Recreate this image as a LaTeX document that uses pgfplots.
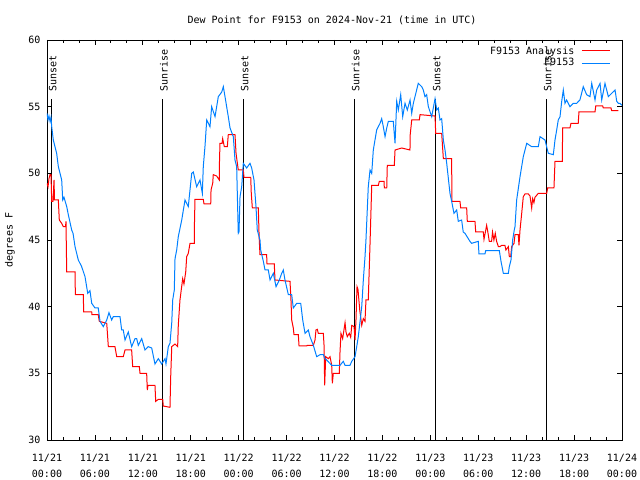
\documentclass[border=0pt]{standalone}
\usepackage{pgfplots}
\pgfplotsset{compat=1.18}
\usepackage{fontspec}
\setmainfont{DejaVu Sans Mono}
\definecolor{gred}{RGB}{255,0,0}
\definecolor{gblue}{RGB}{0,128,255}
\begin{document}
\fontsize{10bp}{12bp}\selectfont
\begin{tikzpicture}
\path[use as bounding box] (-47bp,-40bp) rectangle (593bp,440bp);
\begin{axis}[
  scale only axis, width=575bp, height=400bp,
  xmin=0, xmax=72, ymin=30, ymax=60,
  axis line style={line width=0.8bp},
  xtick={0,6,...,72},
  xticklabels={{11/21\\00:00},{11/21\\06:00},{11/21\\12:00},{11/21\\18:00},{11/22\\00:00},{11/22\\06:00},{11/22\\12:00},{11/22\\18:00},{11/23\\00:00},{11/23\\06:00},{11/23\\12:00},{11/23\\18:00},{11/24\\00:00}},
  minor xtick={2,4,8,10,14,16,20,22,26,28,32,34,38,40,44,46,50,52,56,58,62,64,68,70},
  ytick={30,35,40,45,50,55,60},
  yticklabels={30,35,40,45,50,55,60},
  tick align=inside,
  major tick length=5bp, minor tick length=3bp,
  every tick/.style={black, line width=0.8bp},
  xticklabel style={align=center, font=\fontsize{10bp}{16bp}\selectfont, yshift=-11bp},
  yticklabel style={xshift=-3bp},
  ylabel={degrees F},
  every axis y label/.style={at={(rel axis cs:0,0.5)}, rotate=90, anchor=center, yshift=37bp},
  title={Dew Point for F9153 on 2024-Nov-21 (time in UTC)},
  title style={at={(rel axis cs:0.5,1)}, anchor=center, yshift=14bp, xshift=-2.5bp},
  legend plot pos=right,
  legend cell align=right,
  legend style={at={(rel axis cs:0.98,0.987)}, anchor=north east, draw=none, fill=none, inner sep=0pt, row sep=1bp,
    nodes={inner sep=1bp}},
  legend image code/.code={\path (0bp,0bp) (34bp,0bp); \draw[#1] (6bp,0bp) -- (34bp,0bp);},
]
% sunrise / sunset markers
\addplot[black, line width=0.8bp, forget plot] coordinates {(0.54,30) (0.54,55.55)};
\addplot[black, line width=0.8bp, forget plot] coordinates {(14.44,30) (14.44,55.55)};
\addplot[black, line width=0.8bp, forget plot] coordinates {(24.58,30) (24.58,55.55)};
\addplot[black, line width=0.8bp, forget plot] coordinates {(38.48,30) (38.48,55.55)};
\addplot[black, line width=0.8bp, forget plot] coordinates {(48.62,30) (48.62,55.55)};
\addplot[black, line width=0.8bp, forget plot] coordinates {(62.51,30) (62.51,55.55)};
\node[rotate=90, anchor=west, inner sep=0pt] at (axis cs:0.72,56.12) {Sunset};
\node[rotate=90, anchor=west, inner sep=0pt] at (axis cs:14.64,56.12) {Sunrise};
\node[rotate=90, anchor=west, inner sep=0pt] at (axis cs:24.76,56.12) {Sunset};
\node[rotate=90, anchor=west, inner sep=0pt] at (axis cs:38.66,56.12) {Sunrise};
\node[rotate=90, anchor=west, inner sep=0pt] at (axis cs:48.8,56.12) {Sunset};
\node[rotate=90, anchor=west, inner sep=0pt] at (axis cs:62.69,56.12) {Sunrise};
% F9153 Analysis
\addplot[gred, line width=1bp] coordinates {
(0,49.25)(0.13,49.0)(0.25,49.6)(0.38,49.9)(0.5,49.9)(0.59,47.9)(0.75,47.9)(0.88,49.5)(0.94,48.0)(1.42,48.0)(1.54,46.5)(1.84,46.25)(2.04,46.0)(2.32,46.0)(2.38,46.4)(2.42,44.5)(2.47,42.6)(3.51,42.6)(3.55,40.9)(4.55,40.9)(4.59,39.6)(5.6,39.6)(5.63,39.4)(6.42,39.4)(6.55,38.9)(7.48,38.75)(7.68,37.0)(8.51,37.0)(8.73,36.25)(9.55,36.25)(9.77,36.75)(10.6,36.75)(10.73,35.5)(11.56,35.5)(11.65,35.0)(12.48,35.0)(12.56,33.75)(12.65,34.1)(13.52,34.1)(13.61,32.9)(13.94,33.05)(14.49,33.05)(14.56,32.55)(15.4,32.45)(15.49,34.75)(15.62,37.0)(16.03,37.2)(16.36,37.0)(16.44,38.6)(16.65,40.5)(16.99,42.1)(17.15,41.7)(17.37,42.6)(17.49,43.75)(17.69,44.0)(17.91,44.75)(18.45,44.75)(18.47,46.4)(18.53,48.05)(19.57,48.05)(19.66,47.7)(20.5,47.7)(20.54,48.75)(20.75,49.25)(20.82,49.9)(21.24,49.8)(21.58,49.5)(21.6,50.9)(21.66,52.25)(21.92,52.25)(22.0,52.6)(22.2,52.0)(22.58,52.0)(22.7,52.9)(23.54,52.9)(23.67,51.5)(23.95,50.25)(24.58,50.25)(24.67,49.7)(25.51,49.7)(25.58,48.5)(25.71,47.4)(26.46,47.4)(26.55,45.5)(26.58,45.0)(26.67,43.9)(27.5,43.9)(27.55,43.2)(28.46,43.2)(28.55,42.0)(30.43,41.9)(30.55,40.5)(30.64,39.0)(30.84,38.4)(30.93,37.9)(31.47,37.9)(31.56,37.05)(32.52,37.05)(32.6,37.1)(33.35,37.1)(33.56,37.5)(33.68,38.25)(33.85,38.3)(33.97,38.0)(34.6,38.0)(34.69,37.1)(34.77,34.1)(34.9,36.25)(35.22,36.1)(35.44,36.25)(35.65,35.6)(35.73,34.25)(35.85,35.0)(36.6,35.0)(36.69,36.6)(36.81,38.0)(37.02,37.6)(37.32,38.8)(37.44,38.1)(37.6,37.75)(37.85,38.0)(38.03,37.7)(38.16,38.6)(38.45,38.5)(38.57,37.5)(38.69,39.0)(38.82,41.5)(38.94,41.3)(39.16,39.75)(39.41,38.6)(39.61,39.1)(39.82,38.9)(39.94,40.5)(40.23,40.5)(40.45,44.75)(40.66,49.1)(41.49,49.1)(41.61,49.4)(42.2,49.4)(42.24,48.9)(42.54,48.9)(42.61,50.6)(43.49,50.6)(43.58,51.75)(44.41,51.9)(45.45,51.75)(45.48,52.9)(45.67,54.0)(46.62,54.0)(46.71,54.4)(48.59,54.3)(48.67,53.0)(49.42,53.0)(49.63,51.1)(50.67,51.1)(50.7,47.9)(51.71,47.9)(51.8,47.4)(52.55,47.4)(52.63,46.4)(53.59,46.4)(53.68,45.6)(54.63,45.6)(54.72,45.05)(55.05,46.1)(55.2,45.6)(55.38,44.9)(55.67,44.9)(55.79,45.6)(55.96,45.0)(56.13,45.5)(56.3,44.9)(56.52,44.5)(56.72,44.5)(56.93,44.6)(57.34,44.6)(57.46,44.25)(57.77,44.5)(57.89,43.75)(58.06,43.75)(58.19,44.5)(58.48,44.75)(58.6,45.4)(59.01,45.4)(59.1,44.6)(59.23,45.75)(59.44,47.0)(59.64,48.25)(59.85,48.45)(60.27,48.45)(60.48,48.3)(60.69,47.4)(60.81,48.1)(60.97,47.8)(61.1,48.2)(61.52,48.5)(62.57,48.5)(62.69,48.9)(63.48,48.9)(63.61,50.9)(64.52,50.9)(64.57,53.4)(65.48,53.4)(65.61,53.75)(66.52,53.75)(66.61,54.6)(68.62,54.6)(68.71,55.05)(69.58,55.05)(69.66,54.9)(70.62,54.9)(70.71,54.7)(71.54,54.7)
};
\addlegendentry{F9153 Analysis}
% F9153
\addplot[gblue, line width=1bp] coordinates {
(0,54.5)(0.13,54.0)(0.25,54.3)(0.38,53.9)(0.5,54.2)(0.59,53.5)(0.79,52.5)(1.0,52.0)(1.21,51.5)(1.42,50.5)(1.84,49.5)(1.97,48.0)(2.13,48.2)(2.47,47.5)(2.67,46.9)(3.09,45.75)(3.26,45.5)(3.51,44.5)(3.92,43.5)(4.34,43.0)(4.76,42.25)(5.1,41.0)(5.38,41.2)(5.6,40.25)(6.01,39.9)(6.42,39.9)(6.64,38.9)(7.05,38.5)(7.48,39.0)(7.76,39.55)(8.1,39.0)(8.3,39.25)(9.14,39.25)(9.35,38.25)(9.55,38.25)(9.77,37.5)(10.18,38.1)(10.6,37.0)(11.02,37.6)(11.23,37.6)(11.43,37.1)(11.86,37.6)(12.27,36.75)(12.68,37.0)(13.11,36.9)(13.52,35.7)(13.94,36.1)(14.36,35.7)(14.78,36.1)(14.9,35.7)(15.19,37.0)(15.4,37.25)(15.62,38.8)(15.74,40.5)(15.94,41.25)(16.03,43.6)(16.24,44.25)(16.44,45.25)(16.87,46.5)(17.28,48.0)(17.69,47.5)(18.12,50.0)(18.32,50.1)(18.74,49.0)(19.16,49.5)(19.45,48.5)(19.57,50.5)(19.78,52.0)(20.0,54.0)(20.41,53.5)(20.62,55.0)(21.04,54.25)(21.45,55.75)(21.88,56.1)(22.08,56.5)(22.29,55.75)(22.7,54.25)(22.92,53.4)(23.33,52.75)(23.54,51.0)(23.75,50.5)(23.83,48.5)(23.95,45.5)(24.04,45.6)(24.17,48.25)(24.38,49.0)(24.58,50.75)(25.0,50.4)(25.42,50.75)(25.63,50.4)(25.92,49.5)(26.17,47.5)(26.33,45.75)(26.67,45.0)(26.76,44.25)(27.09,43.4)(27.3,42.75)(27.71,42.75)(27.93,42.0)(28.34,42.5)(28.68,41.5)(29.09,42.0)(29.39,42.5)(29.59,42.75)(29.8,42.0)(30.22,40.9)(30.64,40.9)(30.84,39.9)(31.27,40.25)(31.77,40.25)(32.02,39.0)(32.31,38.0)(32.72,38.25)(32.93,37.75)(33.35,37.1)(33.77,36.25)(34.19,36.4)(34.6,36.4)(34.81,36.1)(35.02,36.0)(35.65,35.6)(36.69,35.6)(37.1,35.9)(37.32,35.6)(37.94,35.6)(38.16,35.9)(38.57,36.25)(38.78,37.0)(38.98,37.75)(39.41,40.0)(39.61,42.0)(39.82,43.75)(39.94,45.0)(40.03,46.25)(40.23,49.0)(40.45,50.25)(40.66,50.0)(40.86,51.75)(41.07,52.5)(41.28,53.25)(41.7,53.75)(41.91,54.1)(42.11,53.5)(42.33,52.75)(42.54,53.4)(42.74,53.9)(43.36,53.9)(43.58,52.25)(43.79,55.4)(43.99,54.75)(44.29,55.9)(44.54,54.25)(44.83,55.25)(45.12,54.75)(45.46,55.5)(45.67,54.5)(45.87,55.25)(46.08,55.75)(46.49,56.75)(46.92,56.5)(47.12,56.25)(47.33,55.75)(47.54,55.9)(47.75,55.0)(48.17,54.25)(48.59,55.6)(48.8,54.75)(49.0,54.9)(49.21,54.0)(49.42,54.1)(49.63,52.5)(49.84,51.75)(50.05,50.75)(50.46,48.5)(50.67,47.9)(50.96,47.0)(51.3,47.25)(51.5,46.4)(51.92,46.5)(52.12,45.6)(52.34,45.5)(52.96,44.9)(53.17,44.75)(54.0,44.9)(54.09,43.95)(54.84,43.95)(54.93,44.2)(56.64,44.2)(56.85,43.4)(57.14,42.5)(57.77,42.5)(57.89,43.0)(58.1,43.5)(58.31,45.0)(58.51,45.75)(58.6,46.0)(58.81,48.0)(59.23,49.75)(59.64,51.25)(60.07,52.25)(60.69,52.0)(61.52,52.0)(61.73,52.75)(62.36,52.5)(62.77,51.5)(63.4,51.4)(63.61,52.5)(63.82,53.25)(64.02,54.0)(64.24,54.25)(64.45,55.4)(64.65,56.25)(64.86,55.25)(65.07,55.5)(65.48,55.0)(65.9,55.25)(66.32,55.25)(66.73,55.5)(67.15,56.5)(67.57,55.9)(67.99,55.75)(68.21,56.75)(68.62,55.5)(68.83,56.25)(69.25,56.75)(69.46,55.5)(69.87,56.75)(70.29,55.75)(70.71,56.0)(71.13,56.25)(71.34,55.4)(71.54,55.25)(71.75,55.25)(72.0,55.1)
};
\addlegendentry{F9153}
\end{axis}
\end{tikzpicture}
\end{document}
